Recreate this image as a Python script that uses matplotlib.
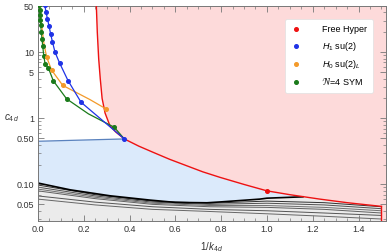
import matplotlib
matplotlib.use("Agg")
import matplotlib.pyplot as plt
import numpy as np
from matplotlib.lines import Line2D
from matplotlib.ticker import FixedLocator, NullFormatter, MultipleLocator

plt.rcParams['font.family'] = ['Liberation Sans', 'DejaVu Sans']
plt.rcParams['mathtext.fontset'] = 'custom'
plt.rcParams['mathtext.it'] = 'Liberation Sans:italic'
plt.rcParams['mathtext.rm'] = 'Liberation Sans'

# free hypermultiplet boundary (red)
red_x = [0.254, 0.259, 0.265, 0.272, 0.280, 0.293, 0.314, 0.340, 0.377, 0.440,
         0.503, 0.575, 0.649, 0.720, 0.795, 0.900, 1.000, 1.100, 1.231, 1.350, 1.500]
red_y = [60, 20, 8.0, 3.95, 2.0, 1.2, 0.775, 0.62, 0.488, 0.38,
         0.306, 0.24, 0.192, 0.155, 0.128, 0.100, 0.080, 0.070, 0.060, 0.053, 0.0466]
red_pt = (1.0, 0.080)

# H1 su(2) (blue)
blue_x = [0.029, 0.035, 0.041, 0.048, 0.055, 0.063, 0.074, 0.094, 0.131, 0.188, 0.377]
blue_y = [52, 40.9, 32.1, 25.1, 19.0, 14.4, 10.1, 6.9, 3.73, 1.75, 0.488]

# H0 su(2)_L (orange)
orange_x = [0.008, 0.013, 0.019, 0.026, 0.038, 0.059, 0.108, 0.227, 0.297]
orange_y = [50, 32, 21, 13.4, 8.4, 5.4, 3.15, 1.92, 1.39]
orange_dot_x = [0.038, 0.059, 0.108, 0.297]
orange_dot_y = [8.4, 5.4, 3.15, 1.39]

# N=4 SYM (green)
green_x = [0.006, 0.0074, 0.0087, 0.010, 0.012, 0.015, 0.0175, 0.0205, 0.025,
           0.031, 0.045, 0.067, 0.125, 0.22, 0.333, 0.377]
green_y = [52, 43.9, 36.0, 30.3, 25.4, 20.2, 16.0, 12.6, 8.9,
           6.7, 5.8, 3.69, 1.97, 1.17, 0.733, 0.488]
green_dot_x = [0.006, 0.0074, 0.0087, 0.010, 0.012, 0.015, 0.0175, 0.0205, 0.025,
               0.031, 0.045, 0.067, 0.125, 0.333]
green_dot_y = [52, 43.9, 36.0, 30.3, 25.4, 20.2, 16.0, 12.6, 8.9,
               6.7, 5.8, 3.69, 1.97, 0.733]

# top edge of the blue region
edge_x = [0.0, 0.377]
edge_y = [0.45, 0.488]

# lower bound (black) and family of grey curves
black_x = [0.0, 0.14, 0.314, 0.489, 0.60, 0.738, 0.80, 0.969, 1.0, 1.157]
black_y = [0.105, 0.083, 0.0674, 0.058, 0.0535, 0.0528, 0.0545, 0.060, 0.062, 0.065]

grey_x = [0.0, 0.25, 0.5, 0.75, 1.0, 1.25, 1.5]
grey_y = [
    [0.098, 0.070, 0.056, 0.052, 0.056, 0.053, 0.046],
    [0.091, 0.067, 0.054, 0.050, 0.052, 0.049, 0.043],
    [0.085, 0.064, 0.052, 0.048, 0.048, 0.045, 0.040],
    [0.080, 0.061, 0.050, 0.046, 0.045, 0.042, 0.037],
    [0.067, 0.054, 0.046, 0.042, 0.040, 0.037, 0.034],
    [0.060, 0.049, 0.042, 0.039, 0.036, 0.033, 0.030],
]
grey_cols = ['#303030', '#505050', '#707070', '#606060', '#555555', '#666666']

fig = plt.figure(figsize=(3.89, 2.52), dpi=100)
ax = fig.add_axes([38/389, 1-221/252, 348/389, 215/252])
ax.set_yscale('log')
ax.set_xlim(0, 1.52)
ax.set_ylim(0.028, 50)

# pink region (right of red curve)
px = np.concatenate([red_x, [1.5, 2.0, 2.0, red_x[0]]])
py = np.concatenate([red_y, [0.01, 0.01, 100, 100]])
ax.fill(px, py, color='#fddada', lw=0, zorder=0)

# blue region
rx = np.array(red_x)
ry = np.array(red_y)
m = (rx >= 0.377) & (rx < 1.157)
bx = np.concatenate([edge_x, rx[m], black_x[::-1]])
by = np.concatenate([edge_y, ry[m], black_y[::-1]])
ax.fill(bx, by, color='#dbeafb', lw=0, zorder=0)

# grey region below
m2 = rx > 1.157
gx = np.concatenate([black_x, rx[m2], [1.5, 0.0]])
gy = np.concatenate([black_y, ry[m2], [0.01, 0.01]])
ax.fill(gx, gy, color='#ebebeb', lw=0, zorder=0)

for g, c in zip(grey_y, grey_cols):
    ax.plot(grey_x, g, color=c, lw=0.7, zorder=1)
ax.plot(black_x, black_y, color='black', lw=1.2, zorder=2)

ax.plot(edge_x, edge_y, color='#5a82be', lw=0.9, zorder=2)
ax.plot(red_x, red_y, color='#ee1111', lw=1.0, zorder=3)
ax.plot([1.5, 1.5], [red_y[-1], 0.01], color='#ee1111', lw=1.0, zorder=3)
ax.plot(*red_pt, 'o', color='#ee1111', ms=2.6, zorder=5)

ax.plot(green_x, green_y, color='#1a7a1a', lw=0.9, zorder=3)
ax.plot(green_dot_x, green_dot_y, 'o', color='#1a7a1a', ms=2.6, zorder=4)
ax.plot(orange_x, orange_y, color='#f39a2a', lw=0.9, zorder=3)
ax.plot(orange_dot_x, orange_dot_y, 'o', color='#f39a2a', ms=2.6, zorder=4)
ax.plot(blue_x, blue_y, color='#1f33e6', lw=0.9, zorder=4)
ax.plot(blue_x, blue_y, 'o', color='#1f33e6', ms=2.6, zorder=5)

# ticks
ax.yaxis.set_major_locator(FixedLocator([0.05, 0.1, 0.5, 1, 5, 10, 50]))
ax.set_yticklabels(['0.05', '0.10', '0.50', '1', '5', '10', '50'])
minors = [v * d for d in [0.01, 0.1, 1, 10] for v in range(2, 10)]
ax.yaxis.set_minor_locator(FixedLocator(minors))
ax.yaxis.set_minor_formatter(NullFormatter())
ax.xaxis.set_major_locator(MultipleLocator(0.2))
ax.xaxis.set_minor_locator(MultipleLocator(0.05))
ax.set_xticks(np.arange(0, 1.41, 0.2))
ax.set_xticklabels(['0.0', '0.2', '0.4', '0.6', '0.8', '1.0', '1.2', '1.4'])
ax.tick_params(which='both', direction='in', top=True, right=True,
               colors='#777777', labelcolor='#333333', labelsize=6.5, pad=3)
ax.tick_params(which='major', length=4, width=0.6)
ax.tick_params(which='minor', length=2, width=0.5)
for s in ax.spines.values():
    s.set_color('#777777')
    s.set_linewidth(0.7)

ax.set_xlabel('$1/k_{4\\,d}$', fontsize=7, color='#333333', labelpad=4)
fig.text(12/389, 1-118/252, '$c_{4\\,d}$', fontsize=7, color='#333333',
         ha='center', va='center')

handles = [
    Line2D([], [], ls='none', marker='o', color='#ee1111', ms=2.6),
    Line2D([], [], ls='none', marker='o', color='#1f33e6', ms=2.6),
    Line2D([], [], ls='none', marker='o', color='#f39a2a', ms=2.6),
    Line2D([], [], ls='none', marker='o', color='#1a7a1a', ms=2.6),
]
labels = ['Free Hyper', '$H_1$ su(2)', '$H_0$ su(2)$_L$', '$\\mathcal{N}$=4 SYM']
leg = ax.legend(handles, labels, loc='upper right', bbox_to_anchor=(0.976, 0.96),
                fontsize=6.5, handlelength=1.0, handletextpad=2.4,
                labelspacing=0.6, borderpad=0.7, fancybox=True, framealpha=1)
leg.get_frame().set_edgecolor('#e0e0e0')
leg.get_frame().set_linewidth(0.5)

fig.savefig('out.png', dpi=100)
